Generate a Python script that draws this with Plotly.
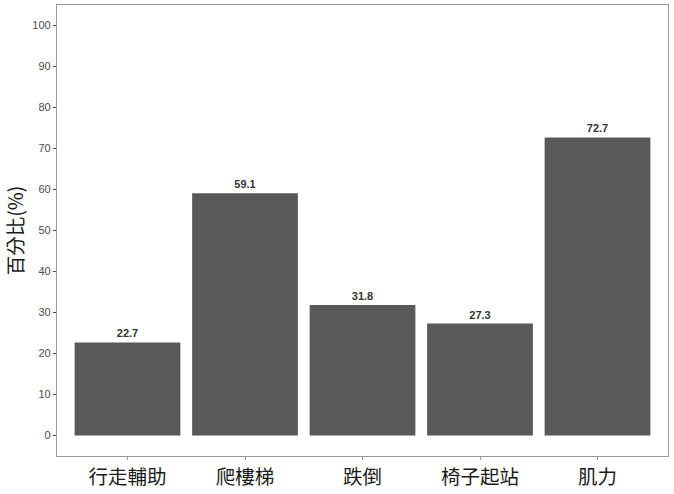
import plotly.graph_objects as go

# 資料
categories = ["行走輔助", "爬樓梯", "跌倒", "椅子起站", "肌力"]
percent = [22.7, 59.1, 31.8, 27.3, 72.7]
y_ticks = [0, 10, 20, 30, 40, 50, 60, 70, 80, 90, 100]

font_tc = "Noto Sans CJK TC"

fig = go.Figure()

fig.add_trace(go.Bar(
    x=list(range(len(categories))),
    y=percent,
    width=0.9,
    marker=dict(color="#595959", line=dict(width=0)),
    text=[f"<b>{v:.1f}</b>" for v in percent],
    textposition="outside",
    textfont=dict(family="Arial", size=11, color="#333333"),
    cliponaxis=False,
))

fig.update_layout(
    width=674, height=494,
    margin=dict(l=57, r=6, t=4, b=37),
    paper_bgcolor="white",
    plot_bgcolor="white",
    showlegend=False,
    font=dict(family=font_tc),
    xaxis=dict(
        range=[-0.6, 4.6],
        tickvals=list(range(len(categories))),
        ticktext=categories,
        tickfont=dict(family=font_tc, size=19.5, color="#1a1a1a"),
        ticks="outside", ticklen=3, tickcolor="#999999",
        showgrid=False, zeroline=False,
        showline=True, linecolor="#999999", linewidth=1.3, mirror=True,
    ),
    yaxis=dict(
        range=[-5, 105],
        tickvals=y_ticks,
        tickfont=dict(family="Arial", size=11, color="#4d4d4d"),
        ticks="outside", ticklen=3, tickcolor="#4d4d4d",
        showgrid=False, zeroline=False,
        showline=True, linecolor="#999999", linewidth=1.3, mirror=True,
        title=dict(text="百分比(%)", font=dict(family=font_tc, size=19.5, color="#1a1a1a"), standoff=6),
    ),
)

# 去掉頁面預設邊距，讓圖貼齊視窗左上角
fig.write_html(
    "out.html",
    config={"displayModeBar": False},
    post_script="document.body.style.margin='0';document.documentElement.style.overflow='hidden';",
)
